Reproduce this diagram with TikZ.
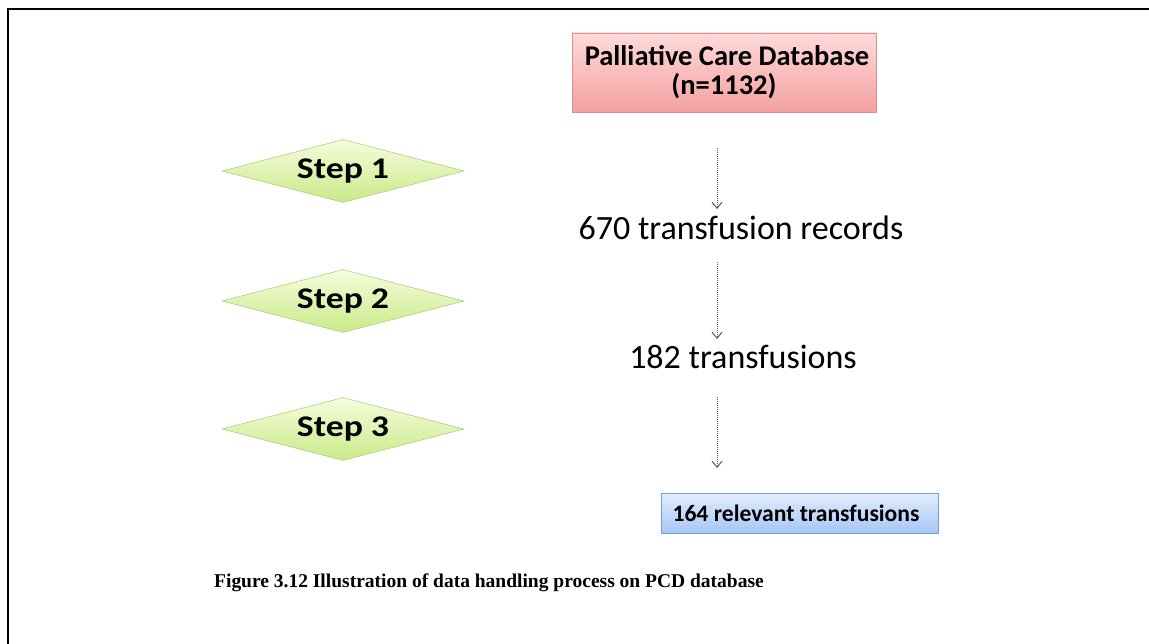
\documentclass[tikz,border=0pt]{standalone}
\usepackage{fontspec}
\usepackage{graphicx}
\setmainfont{Liberation Serif}
\newfontfamily\calfont{Carlito}
\usetikzlibrary{shapes.geometric,arrows.meta,shadows}
\definecolor{redtop}{HTML}{FFDADA}
\definecolor{redbot}{HTML}{F3A0A0}
\definecolor{redline}{HTML}{D89090}
\definecolor{bluetop}{HTML}{E2EEFD}
\definecolor{bluebot}{HTML}{A6C6F6}
\definecolor{blueline}{HTML}{7C9CD0}
\definecolor{greentop}{HTML}{F6FCDC}
\definecolor{greenbot}{HTML}{C9EA88}
\definecolor{greenline}{HTML}{A8C878}
\newcommand\widetext[1]{\scalebox{1.19}[1]{#1}}
\begin{document}
\begin{tikzpicture}[x=1pt,y=-1pt,
  redbox/.style={draw=redline, line width=0.6pt, top color=redtop, bottom color=redbot, minimum width=304pt, minimum height=79pt, inner sep=0pt, align=center, font=\calfont\bfseries\fontsize{28.5}{33}\selectfont},
  bluebox/.style={draw=blueline, line width=0.6pt, top color=bluetop, bottom color=bluebot, minimum width=277pt, minimum height=40pt, inner sep=0pt, font=\calfont\bfseries\fontsize{23.6}{26}\selectfont},
  stepdia/.style={diamond, aspect=3.84, draw=greenline, line width=0.5pt, top color=greentop, bottom color=greenbot, minimum width=242pt, minimum height=63pt, inner sep=0pt, font=\calfont\bfseries\fontsize{30}{34}\selectfont},
  midtext/.style={font=\calfont\fontsize{34}{36}\selectfont, inner sep=0pt},
  flow/.style={gray!70!black, densely dotted, line width=1pt, -{Straight Barb[length=6pt,width=10pt]}},
  frame/.style={line width=2pt, black}
]
\useasboundingbox (0,0) rectangle (1149,644);
\coordinate (fc) at (1149,9);
\coordinate (fl) at (8,644);
\draw[frame] (fl) |- (fc);

\node[redbox] (db) at (724,72.5) {\raisebox{-3pt}{\hspace*{6pt}Palliative Care Database}\\[-1pt](n=1132)};
\node[midtext] (r670) at (741,228) {670 transfusion records};
\node[midtext] (t182) at (743,357) {182 transfusions};
\node[bluebox] (rel) at (800,513) {\hspace*{-8pt}164 relevant transfusions};

\node[stepdia] (s1) at (343,171) {\widetext{Step 1}};
\node[stepdia] (s2) at (343,301) {\widetext{Step 2}};
\node[stepdia] (s3) at (343,429) {\widetext{Step 3}};

\coordinate (a1s) at (717,148);
\coordinate (a1e) at (717,209);
\coordinate (a2s) at (717,262);
\coordinate (a2e) at (717,339);
\coordinate (a3s) at (717,397);
\coordinate (a3e) at (717,468);
\draw[flow] (a1s) -- (a1e);
\draw[flow] (a2s) -- (a2e);
\draw[flow] (a3s) -- (a3e);

\node[font=\bfseries\fontsize{19.5}{22}\selectfont, inner sep=0pt] (cap) at (489,583) {Figure 3.12 Illustration of data handling process on PCD database};
\end{tikzpicture}
\end{document}
